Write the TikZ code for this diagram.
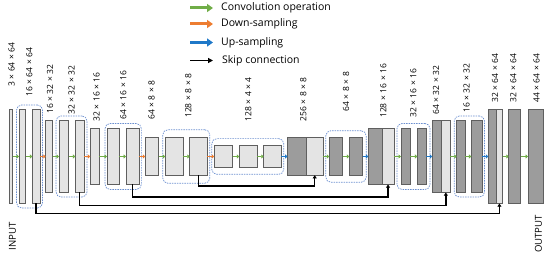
\documentclass[tikz,border=0pt]{standalone}
\usepackage{fontspec}
\setmainfont{Open Sans}
\usepackage{tikz}
\usetikzlibrary{arrows.meta, positioning, fit, calc}
\definecolor{convgreen}{HTML}{70AD47}
\definecolor{downorange}{HTML}{ED7D31}
\definecolor{upblue}{HTML}{1F78C8}
\definecolor{edge}{HTML}{5F5F5F}
\definecolor{lightfill}{HTML}{E4E4E4}
\definecolor{darkfill}{HTML}{9C9C9C}
\definecolor{groupblue}{HTML}{6B8FD0}
\newcommand{\dimx}{\hspace{0.3em}×\hspace{0.3em}}
\tikzstyle{lblock}   = [rectangle, draw=edge, line width=0.8pt, fill=lightfill,
                        inner sep=0pt, outer sep=0pt]
\tikzstyle{dblock}   = [lblock, fill=darkfill]
\tikzstyle{h64}      = [minimum height=94pt]
\tikzstyle{h32}      = [minimum height=72pt]
\tikzstyle{h16}      = [minimum height=56pt]
\tikzstyle{h8}       = [minimum height=37.5pt]
\tikzstyle{h4}       = [minimum height=21.7pt]
\tikzstyle{group}    = [draw=groupblue, line width=0.7pt, dash pattern=on 1.5pt off 1pt,
                        rounded corners=5pt, inner xsep=3pt, inner ysep=4.5pt]
\tikzstyle{conv}     = [-{Triangle[length=2.4pt,width=4pt]}, line width=1.5pt, color=convgreen]
\tikzstyle{downarrow}= [conv, color=downorange]
\tikzstyle{uparrow}  = [conv, color=upblue]
\tikzstyle{skiparrow}= [-{Triangle[length=3.2pt,width=4pt]}, line width=1.5pt, color=black]
\tikzstyle{dimlabel} = [rotate=90, anchor=west, inner sep=0pt, font=\fontsize{8.5}{9}\selectfont]
\tikzstyle{legtext}  = [anchor=west, inner sep=0pt, font=\fontsize{10.5}{12}\selectfont]
\tikzstyle{legarrow} = [-{Triangle[length=6pt,width=8pt]}, line width=3pt]

\begin{document}
\begin{tikzpicture}[x=1pt, y=-1pt]
  \useasboundingbox (0,0) rectangle (550,256);

  %% legend
  \node[legtext] (lgconv) at (221,8)    {Convolution operation};
  \node[legtext] (lgdown) at (221,24)   {Down-sampling};
  \node[legtext] (lgup)   at (221,42.5) {Up-sampling};
  \node[legtext] (lgskip) at (222,60.5) {Skip connection};
  \draw[legarrow, convgreen]  ([xshift=-31pt]lgconv.west) -- ([xshift=-8pt]lgconv.west);
  \draw[legarrow, downorange] ([xshift=-31pt]lgdown.west) -- ([xshift=-8pt]lgdown.west);
  \draw[legarrow, upblue]     ([xshift=-31pt]lgup.west)   -- ([xshift=-8pt]lgup.west);
  \draw[-{Triangle[length=5pt,width=5pt]}, line width=1.6pt]
        ([xshift=-32pt]lgskip.west) -- ([xshift=-9pt]lgskip.west);

  %% encoder
  \node[lblock, h64, minimum width=3.7pt]  (b1)  at (10.9,156.5)  {};
  \node[lblock, h64, minimum width=6.7pt]  (b2)  at (22.4,156.5)  {};
  \node[lblock, h64, minimum width=7.7pt]  (b3)  at (36.2,156.5)  {};
  \node[lblock, h32, minimum width=7pt]    (b4)  at (49.2,156.5)  {};
  \node[lblock, h32, minimum width=9.7pt]  (b5)  at (63.9,156.5)  {};
  \node[lblock, h32, minimum width=8.7pt]  (b6)  at (79.7,156.5)  {};
  \node[lblock, h16, minimum width=9pt]    (b7)  at (94.8,156.5)  {};
  \node[lblock, h16, minimum width=12.3pt] (b8)  at (113.2,156.5) {};
  \node[lblock, h16, minimum width=13.3pt] (b9)  at (132.7,156.5) {};
  \node[lblock, h8,  minimum width=13.4pt] (b10) at (152,156.5)   {};
  \node[lblock, h8,  minimum width=18pt]   (b11) at (174.3,156.5) {};
  \node[lblock, h8,  minimum width=17.6pt] (b12) at (198.5,156.5) {};

  %% bottleneck
  \node[lblock, h4,  minimum width=18.4pt] (b13) at (223.5,156.5) {};
  \node[lblock, h4,  minimum width=18pt]   (b14) at (248.3,156.5) {};
  \node[lblock, h4,  minimum width=17.6pt] (b15) at (272.5,156.5) {};

  %% decoder
  \node[dblock, h8,  minimum width=18.5pt] (b16d) at (296.8,156.5) {};
  \node[lblock, h8,  minimum width=17.3pt, right=0pt of b16d] (b16l) {};
  \node[dblock, h8,  minimum width=13.4pt] (b17) at (336,156.5)   {};
  \node[dblock, h8,  minimum width=13.4pt] (b18) at (356,156.5)   {};
  \node[dblock, h16, minimum width=13.7pt] (b19d) at (375.2,156.5) {};
  \node[lblock, h16, minimum width=12pt, right=0pt of b19d] (b19l) {};
  \node[dblock, h16, minimum width=9pt]    (b20) at (405.5,156.5) {};
  \node[dblock, h16, minimum width=8.7pt]  (b21) at (421.7,156.5) {};
  \node[dblock, h32, minimum width=9.4pt]  (b22d) at (437,156.5)  {};
  \node[lblock, h32, minimum width=8.3pt, right=0pt of b22d] (b22l) {};
  \node[dblock, h32, minimum width=8.6pt]  (b23) at (461,156.5)   {};
  \node[dblock, h32, minimum width=10.7pt] (b24) at (476.7,156.5) {};
  \node[dblock, h64, minimum width=7.7pt]  (b25d) at (492.2,156.5) {};
  \node[lblock, h64, minimum width=6.7pt, right=0pt of b25d] (b25l) {};
  \node[dblock, h64, minimum width=12pt]   (b26) at (514.7,156.5) {};
  \node[dblock, h64, minimum width=15.3pt] (b27) at (535.7,156.5) {};

  %% dashed groups
  \node[group, fit=(b2)(b3), inner xsep=2.5pt] (g1) {};
  \node[group, fit=(b5)(b6)] (g2) {};
  \node[group, fit=(b8)(b9), inner xsep=2pt, inner ysep=5pt] (g3) {};
  \node[group, fit=(b11)(b12), inner xsep=2.5pt, inner ysep=8pt] (g4) {};
  \node[group, fit=(b13)(b15), inner xsep=2.5pt, inner ysep=7pt] (g5) {};
  \node[group, fit=(b17)(b18), inner xsep=3.5pt, inner ysep=7pt] (g6) {};
  \node[group, fit=(b20)(b21), inner xsep=4pt, inner ysep=5pt] (g7) {};
  \node[group, fit=(b23)(b24), inner xsep=2.5pt] (g8) {};

  %% forward arrows
  \draw[conv]      (b1.east)  -- (b2.west);
  \draw[conv]      (b2.east)  -- (b3.west);
  \draw[downarrow] (b3.east)  -- (b4.west);
  \draw[conv]      (b4.east)  -- (b5.west);
  \draw[conv]      (b5.east)  -- (b6.west);
  \draw[downarrow] (b6.east)  -- (b7.west);
  \draw[conv]      (b7.east)  -- (b8.west);
  \draw[conv]      (b8.east)  -- (b9.west);
  \draw[downarrow] (b9.east)  -- (b10.west);
  \draw[conv]      (b10.east) -- (b11.west);
  \draw[conv]      (b11.east) -- (b12.west);
  \draw[downarrow] (b12.east) -- (b13.west);
  \draw[conv]      (b13.east) -- (b14.west);
  \draw[conv]      (b14.east) -- (b15.west);
  \draw[uparrow]   (b15.east) -- (b16d.west);
  \draw[conv]      (b16l.east) -- (b17.west);
  \draw[conv]      (b17.east) -- (b18.west);
  \draw[uparrow]   (b18.east) -- (b19d.west);
  \draw[conv]      (b19l.east) -- (b20.west);
  \draw[conv]      (b20.east) -- (b21.west);
  \draw[uparrow]   (b21.east) -- (b22d.west);
  \draw[conv]      (b22l.east) -- (b23.west);
  \draw[conv]      (b23.east) -- (b24.west);
  \draw[uparrow]   (b24.east) -- (b25d.west);
  \draw[conv]      (b25l.east) -- (b26.west);
  \draw[conv]      (b26.east) -- (b27.west);

  %% skip connections
  \draw[skiparrow] (b3.south)  -- ++(0,10)   -| (b25l.south);
  \draw[skiparrow] (b6.south)  -- ++(0,12.8) -| (b22l.south);
  \draw[skiparrow] (b9.south)  -- ++(0,12.5) -| (b19l.south);
  \draw[skiparrow] (b12.south) -- ++(0,11)   -| (b16l.south);

  %% sizes
  \node[dimlabel] (l1)  at (11.7,87)    {3\dimx 64\dimx 64};
  \node[dimlabel] (l2)  at (29.3,97)    {16\dimx 64\dimx 64};
  \node[dimlabel] (l3)  at (50,114)     {16\dimx 32\dimx 32};
  \node[dimlabel] (l4)  at (71.7,115)   {32\dimx 32\dimx 32};
  \node[dimlabel] (l5)  at (96.7,121.7) {32\dimx 16\dimx 16};
  \node[dimlabel] (l6)  at (123.3,120)  {64\dimx 16\dimx 16};
  \node[dimlabel] (l7)  at (151.7,120)  {64\dimx 8\dimx 8};
  \node[dimlabel] (l8)  at (188.3,118)  {128\dimx 8\dimx 8};
  \node[dimlabel] (l9)  at (248.3,121.7) {128\dimx 4\dimx 4};
  \node[dimlabel] (l10) at (303.3,121.7) {256\dimx 8\dimx 8};
  \node[dimlabel] (l11) at (346,111.7)  {64\dimx 8\dimx 8};
  \node[dimlabel] (l12) at (383.3,118)  {128\dimx 16\dimx 16};
  \node[dimlabel] (l13) at (413.3,118)  {32\dimx 16\dimx 16};
  \node[dimlabel] (l14) at (436,115)    {64\dimx 32\dimx 32};
  \node[dimlabel] (l15) at (466.7,113)  {16\dimx 32\dimx 32};
  \node[dimlabel] (l16) at (495,103)    {32\dimx 64\dimx 64};
  \node[dimlabel] (l17) at (513.3,103)  {32\dimx 64\dimx 64};
  \node[dimlabel] (l18) at (536.7,103)  {44\dimx 64\dimx 64};

  %% input / output
  \node[dimlabel, font=\fontsize{9.6}{11}\selectfont] (inp) at (12.5,250.5) {INPUT};
  \node[dimlabel, font=\fontsize{9.6}{11}\selectfont] (outp) at (538.5,253) {OUTPUT};

\end{tikzpicture}
\end{document}
